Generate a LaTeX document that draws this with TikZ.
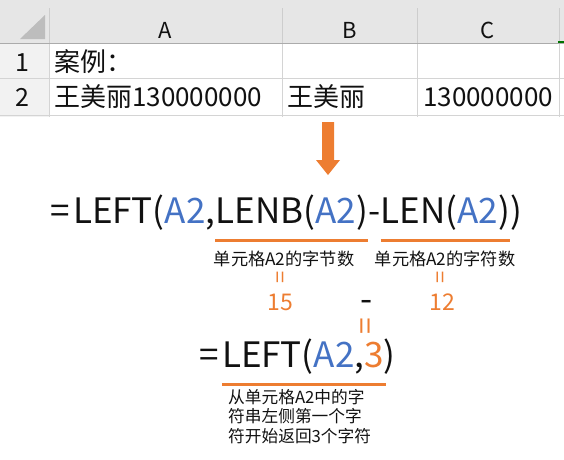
\documentclass[tikz,border=0pt]{standalone}
\usepackage{fontspec}
\setmainfont{Noto Sans CJK SC}
\definecolor{org}{HTML}{ED7D31}
\definecolor{blu}{HTML}{4472C4}
\definecolor{hdr}{HTML}{E6E6E6}
\definecolor{rowhd}{HTML}{F2F2F2}
\definecolor{grid}{HTML}{D4D4D4}
\definecolor{hline}{HTML}{ABABAB}
\definecolor{tri}{HTML}{BDBDBD}
\definecolor{txt}{HTML}{111111}
\newcommand\myfs[1]{\fontsize{#1}{#1}\selectfont}
\begin{document}
\begin{tikzpicture}[x=1pt,y=-1pt,
  every node/.style={inner sep=0pt, text=txt},
  colhd/.style={font=\myfs{22}},
  rowno/.style={font=\myfs{25}},
  cell/.style={font=\myfs{26}, anchor=west},
  ftext/.style={font=\myfs{35}, anchor=base west},
  uline/.style={draw=org, line width=3pt},
  lbl/.style={font=\myfs{17.2}},
  veq/.style={font=\myfs{22}, text=org, rotate=90},
  num/.style={font=\myfs{23}, text=org},
  desc/.style={font={\fontsize{16.7}{19.6}\selectfont}, align=left, anchor=north west},
  gridline/.style={draw=grid, line width=0.8pt}
]
\useasboundingbox (0,0) rectangle (564,459);
% sheet background
\fill[hdr] (0,0) rectangle (564,43);
\fill[rowhd] (0,43) rectangle (49,117);
\fill[tri] (20,39) -- (45,39) -- (45,15) -- cycle;
% grid
\draw[gridline] (0,78) -- (564,78);
\draw[gridline] (0,115) -- (564,115);
\foreach \gx in {49,282,417,559} {
  \draw[draw=hline!60, line width=0.8pt] (\gx,8) -- (\gx,43);
  \draw[gridline] (\gx,43) -- (\gx,117);
}
\draw[draw=hline, line width=1pt] (0,43) -- (564,43);
\draw[draw=green!45!black, line width=1.5pt] (558,42) -- (564,42);
% headers
\node[colhd] (hA) at (165.5,30) {A};
\node[colhd] (hB) at (349.5,30) {B};
\node[colhd] (hC) at (488,30) {C};
\node[rowno] (r1) at (22,63) {1};
\node[rowno] (r2) at (22,97) {2};
% cells
\node[cell] (a1) at (54,62) {案例：};
\node[cell] (a2) at (54,97) {王美丽130000000};
\node[cell] (b2) at (287,97) {王美丽};
\node[cell] (c2) at (423,97) {130000000};
% arrow
\fill[org] (322,122) -- (334,122) -- (334,160) -- (340,160) -- (328,175) -- (316,160) -- (322,160) -- cycle;
% formula 1
\node[ftext] (f1z) at (50,223) {=};
\node[ftext] (f1a) at ([xshift=3pt]f1z.base east) {LEFT(\textcolor{blu}{A2},};
\node[ftext] (f1b) at (f1a.base east) {LENB(\textcolor{blu}{A2})};
\node[ftext] (f1c) at (f1b.base east) {-};
\node[ftext] (f1d) at (f1c.base east) {LEN(\textcolor{blu}{A2})};
\node[ftext] (f1e) at (f1d.base east) {)};
\draw[uline] ([yshift=-17pt]f1b.base west) -- ([yshift=-17pt]f1b.base east);
\draw[uline] ([yshift=-17pt]f1d.base west) -- ([yshift=-17pt]f1d.base east);
% labels
\node[lbl] (l1) at (284,259) {单元格A2的字节数};
\node[lbl] (l2) at (445,259) {单元格A2的字符数};
\node[veq] (e1) at (283,277) {=};
\node[veq] (e2) at (443,277) {=};
\node[num] (n1) at (280,302) {15};
\node[num] (n2) at (442,302) {12};
\node[font=\myfs{35}, anchor=base] (mn) at (367,311) {-};
\node[veq, font=\myfs{30}] (e3) at (369,326) {=};
% formula 2
\node[ftext] (f2a) at (199,367) {=};
\node[ftext] (f2b) at ([xshift=3pt]f2a.base east) {LEFT(\textcolor{blu}{A2},\textcolor{org}{3})};
\draw[uline] ([yshift=-17pt]f2b.base west) -- ([yshift=-17pt,xshift=-10pt]f2b.base east);
\node[desc] (d) at (228,389) {从单元格A2中的字\\符串左侧第一个字\\符开始返回3个字符};
\end{tikzpicture}
\end{document}
